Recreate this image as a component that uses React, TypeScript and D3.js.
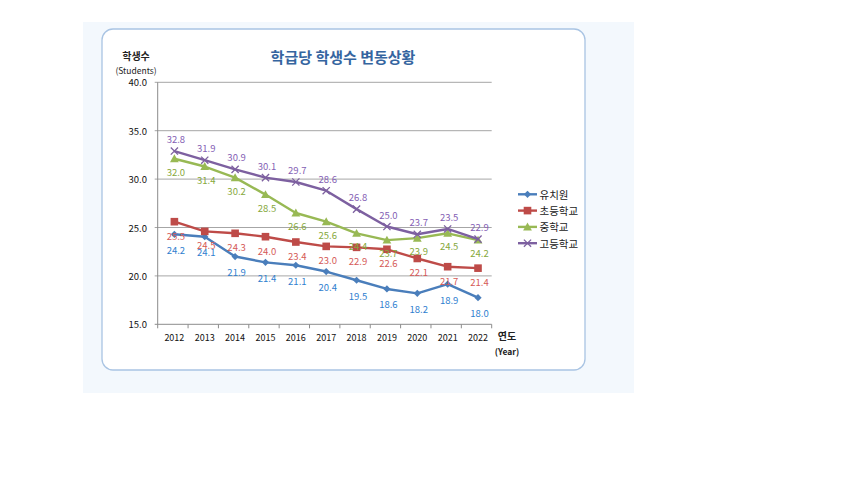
import React from "react";
import * as d3 from "d3";

const years = ["2012","2013","2014","2015","2016","2017","2018","2019","2020","2021","2022"];
const yTicks = [15, 20, 25, 30, 35, 40];

// plotted point values (as drawn) and printed data labels
const kinderValues = [24.3, 24.05, 22.0, 21.4, 21.1, 20.45, 19.55, 18.65, 18.2, 19.15, 17.75];
const kinderLabels = ["24.2","24.1","21.9","21.4","21.1","20.4","19.5","18.6","18.2","18.9","18.0"];
const elemValues = [25.6, 24.6, 24.4, 24.05, 23.5, 23.05, 22.95, 22.75, 21.8, 20.95, 20.8];
const elemLabels = ["25.5","24.5","24.3","24.0","23.4","23.0","22.9","22.6","22.1","21.7","21.4"];
const middleValues = [32.1, 31.3, 30.15, 28.4, 26.5, 25.6, 24.4, 23.7, 23.9, 24.4, 23.7];
const middleLabels = ["32.0","31.4","30.2","28.5","26.6","25.6","24.4","23.7","23.9","24.5","24.2"];
const highValues = [32.9, 31.95, 31.0, 30.15, 29.7, 28.8, 26.9, 25.1, 24.3, 24.85, 23.8];
const highLabels = ["32.8","31.9","30.9","30.1","29.7","28.6","26.8","25.0","23.7","23.5","22.9"];

const seriesNames = ["유치원", "초등학교", "중학교", "고등학교"];

type Marker = "diamond" | "square" | "triangle" | "x";
const series = [
  { name: seriesNames[0], values: kinderValues, labels: kinderLabels, color: "#4A7EBB", labelColor: "#2F80CF", marker: "diamond" as Marker, dy: 15.5 },
  { name: seriesNames[1], values: elemValues, labels: elemLabels, color: "#BE4B48", labelColor: "#D55A57", marker: "square" as Marker, dy: 14 },
  { name: seriesNames[2], values: middleValues, labels: middleLabels, color: "#98B954", labelColor: "#86A83C", marker: "triangle" as Marker, dy: 13 },
  { name: seriesNames[3], values: highValues, labels: highLabels, color: "#7D60A0", labelColor: "#8460B4", marker: "x" as Marker, dy: -12 },
];

const FONT = "'Noto Sans CJK KR', 'Noto Sans', sans-serif";

function MarkerShape({ type, x, y, color }: { type: Marker; x: number; y: number; color: string }) {
  if (type === "diamond") {
    const s = 3.6;
    return <path d={`M${x},${y - s}L${x + s},${y}L${x},${y + s}L${x - s},${y}Z`} fill={color} />;
  }
  if (type === "square") {
    const s = 3.8;
    return <rect x={x - s} y={y - s} width={2 * s} height={2 * s} fill={color} />;
  }
  if (type === "triangle") {
    const s = 4.4;
    return <path d={`M${x},${y - s}L${x + s},${y + s * 0.8}L${x - s},${y + s * 0.8}Z`} fill={color} />;
  }
  const s = 3.6;
  return (
    <path d={`M${x - s},${y - s}L${x + s},${y + s}M${x + s},${y - s}L${x - s},${y + s}`} stroke={color} strokeWidth={1.3} fill="none" />
  );
}

export default function App() {
  const left = 157.7, right = 491.7, top = 82.3, bottom = 324.3;
  const xBand = d3.scaleBand<string>().domain(years).range([left, right]).padding(0);
  const xPt = (yr: string) => (xBand(yr) as number) + xBand.bandwidth() / 2 + 1.5;
  const y = d3.scaleLinear().domain([15, 40]).range([bottom, top]);
  const line = d3.line<[string, number]>().x(d => xPt(d[0])).y(d => y(d[1]));
  const tickEdges = years.map(yr => xBand(yr) as number).concat([right]);

  return (
    <svg width={850} height={478} style={{ position: "absolute", left: 0, top: 0, background: "#fff" }} fontFamily={FONT}>
      <rect x={83} y={22} width={551} height={371} fill="#F3F8FD" />
      <rect x={102} y={29} width={483} height={341} rx={11} ry={11} fill="#fff" stroke="#A9C4E3" strokeWidth={1.3} />

      <text x={343} y={56} textAnchor="middle" dominantBaseline="central" fontSize={15} fontWeight="bold" fill="#3565A0">
        학급당 학생수 변동상황
      </text>
      <text x={136} y={55} textAnchor="middle" dominantBaseline="central" fontSize={10} fontWeight="bold" fill="#222">학생수</text>
      <text x={136} y={69.5} textAnchor="middle" dominantBaseline="central" fontSize={8.5} fill="#222">(Students)</text>

      {/* gridlines */}
      {yTicks.map(t => (
        <g key={t}>
          <line x1={left - 3} x2={right} y1={y(t)} y2={y(t)} stroke={t === 15 ? "#8c8c8c" : "#a6a6a6"} strokeWidth={1} />
          <text x={147} y={y(t)} textAnchor="end" dominantBaseline="central" fontSize={9.5} fill="#111">
            {d3.format(".1f")(t)}
          </text>
        </g>
      ))}
      <line x1={left} x2={left} y1={top} y2={bottom} stroke="#8c8c8c" strokeWidth={1} />
      {tickEdges.map((tx, i) => (
        <line key={i} x1={tx} x2={tx} y1={bottom} y2={bottom + 4} stroke="#8c8c8c" strokeWidth={1} />
      ))}
      {years.map(yr => (
        <text key={yr} x={xPt(yr)} y={337} textAnchor="middle" dominantBaseline="central" fontSize={9} fill="#111">
          {yr}
        </text>
      ))}
      <text x={507} y={335} textAnchor="middle" dominantBaseline="central" fontSize={10} fontWeight="bold" fill="#222">연도</text>
      <text x={507} y={351} textAnchor="middle" dominantBaseline="central" fontSize={8.5} fontWeight="bold" fill="#222">(Year)</text>

      {/* series */}
      {series.map(s => {
        const pts = years.map((yr, i) => [yr, s.values[i]] as [string, number]);
        return (
          <g key={s.name}>
            <path d={line(pts) || ""} fill="none" stroke={s.color} strokeWidth={2.4} strokeLinejoin="round" />
            {pts.map(p => (
              <MarkerShape key={p[0]} type={s.marker} x={xPt(p[0])} y={y(p[1])} color={s.color} />
            ))}
          </g>
        );
      })}
      {series.map(s => (
        <g key={s.name + "-labels"}>
          {years.map((yr, i) => (
            <text key={yr} x={xPt(yr) + 1.5} y={y(s.values[i]) + s.dy} textAnchor="middle" dominantBaseline="central" fontSize={9.5} fill={s.labelColor}>
              {s.labels[i]}
            </text>
          ))}
        </g>
      ))}

      {/* legend */}
      {series.map((s, i) => {
        const ly = 194.3 + i * 16.3;
        return (
          <g key={s.name + "-legend"}>
            <line x1={518} x2={537} y1={ly} y2={ly} stroke={s.color} strokeWidth={2.4} />
            <MarkerShape type={s.marker} x={527.5} y={ly} color={s.color} />
            <text x={539.5} y={ly} dominantBaseline="central" fontSize={10.5} fill="#222">{s.name}</text>
          </g>
        );
      })}
    </svg>
  );
}
